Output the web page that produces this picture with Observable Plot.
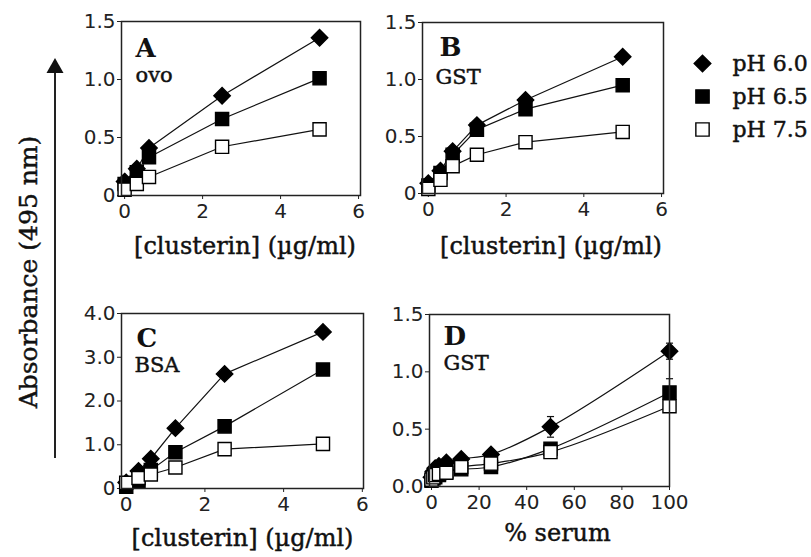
<!DOCTYPE html>
<html><head><meta charset="utf-8">
<script src="https://cdn.jsdelivr.net/npm/d3@7"></script>
<script src="https://cdn.jsdelivr.net/npm/@observablehq/plot@0.6"></script>
<style>
html,body{margin:0;padding:0;background:#fff;}
#fig{position:relative;width:811px;height:557px;overflow:hidden;background:#fff;}
.p{position:absolute;}
</style></head><body><div id="fig"></div>
<script>
// ---------- data ----------
const seriesNames = ["pH 6.0", "pH 6.5", "pH 7.5"];

// Panel A: ovo
const clusterinA = [0, 0.3125, 0.625, 2.5, 5];
const ovoPH60 = [0.12, 0.23, 0.41, 0.86, 1.36];
const ovoPH65 = [0.10, 0.20, 0.33, 0.66, 1.01];
const ovoPH75 = [0.05, 0.10, 0.16, 0.42, 0.57];

// Panel B: GST
const clusterinB = [0, 0.3125, 0.625, 1.25, 2.5, 5];
const gstPH60 = [0.09, 0.20, 0.37, 0.60, 0.82, 1.20];
const gstPH65 = [0.07, 0.18, 0.34, 0.56, 0.74, 0.95];
const gstPH75 = [0.04, 0.12, 0.24, 0.34, 0.45, 0.54];
const gstErr75 = [0, 0, 0, 0, 0, 0.04];

// Panel C: BSA
const clusterinC = [0, 0.3125, 0.625, 1.25, 2.5, 5];
const bsaPH60 = [0.14, 0.40, 0.68, 1.38, 2.62, 3.58];
const bsaPH65 = [0.04, 0.18, 0.42, 0.83, 1.42, 2.72];
const bsaPH75 = [0.13, 0.24, 0.32, 0.48, 0.90, 1.02];
const bsaErr65 = [0, 0, 0, 0, 0.10, 0];
const bsaErr75 = [0, 0, 0, 0, 0, 0.06];

// Panel D: GST vs % serum
const serumD = [0, 0.78, 1.56, 3.125, 6.25, 12.5, 25, 50, 100];
const serumPH60 = [0.08, 0.13, 0.16, 0.18, 0.21, 0.24, 0.28, 0.52, 1.18];
const serumPH65 = [0.05, 0.07, 0.08, 0.10, 0.13, 0.15, 0.17, 0.33, 0.82];
const serumPH75 = [0.06, 0.08, 0.10, 0.11, 0.12, 0.17, 0.20, 0.30, 0.70];
const serumErr60 = [0, 0, 0, 0, 0, 0, 0, 0.09, 0.07];
const serumErr65 = [0, 0, 0, 0, 0, 0, 0, 0, 0.12];

// ticks & labels
const xTicksClusterin = [0, 2, 4, 6];
const xTicksSerum = [0, 20, 40, 60, 80, 100];
const yTicksAB = [0, 0.5, 1.0, 1.5];
const yTicksC = [0, 1, 2, 3, 4];
const yTicksD = [0, 0.5, 1.0, 1.5];
const xLabelClusterin = "[clusterin] (\u00b5g/ml)";
const xLabelSerum = "% serum";
const yLabel = "Absorbance (495 nm)";

// ---------- helpers ----------
function rows(xs, s60, s65, s75, e60, e65, e75) {
  const out = [];
  const sets = [[s60, e60], [s65, e65], [s75, e75]];
  sets.forEach(([ys, es], k) => {
    ys.forEach((y, i) => out.push({x: xs[i], y, s: seriesNames[k], err: es ? es[i] : 0}));
  });
  return out;
}
const capSymbol = {draw(ctx, size) { const w = Math.sqrt(size); ctx.moveTo(-w / 2, 0); ctx.lineTo(w / 2, 0); }};
const fmt0 = d => d === 0 ? "0" : d.toFixed(1);
const serif = "DejaVu Serif";
const heavy = {stroke: "#111", strokeWidth: 0.45};

function panel(o) {
  const data = o.data;
  const errs = data.filter(d => d.err > 0);
  const dotOpts = {x: "x", y: "y", r: 7.4, stroke: "#000", strokeWidth: 1.4};
  return Plot.plot({
    width: o.width, height: o.height,
    marginLeft: o.ml, marginRight: o.mr, marginTop: o.mt, marginBottom: o.mb,
    style: {fontFamily: "DejaVu Sans", fontSize: "20px", color: "#222", background: "transparent"},
    x: {domain: o.xDomain, ticks: o.xTicks, tickSize: 4, tickPadding: 4, label: null, tickFormat: d => String(d)},
    y: {domain: o.yDomain, ticks: o.yTicks, tickSize: 4, tickPadding: 2, label: null, tickFormat: o.yFmt},
    marks: [
      Plot.line(data, {x: "x", y: "y", z: "s", stroke: "#111", strokeWidth: 1.2, curve: o.curve || "linear"}),
      Plot.ruleX(errs, {x: "x", y1: d => d.y - d.err, y2: d => d.y + d.err, stroke: "#111", strokeWidth: 1.2}),
      Plot.dot(errs, {x: "x", y: d => d.y + d.err, symbol: capSymbol, r: 4, stroke: "#111", strokeWidth: 1.2}),
      Plot.dot(errs, {x: "x", y: d => d.y - d.err, symbol: capSymbol, r: 4, stroke: "#111", strokeWidth: 1.2}),
      Plot.dot(data.filter(d => d.s === "pH 6.0"), {...dotOpts, symbol: "diamond2", fill: "#000", r: 7.4}),
      Plot.dot(data.filter(d => d.s === "pH 6.5"), {...dotOpts, symbol: "square", fill: "#000"}),
      Plot.dot(data.filter(d => d.s === "pH 7.5"), {...dotOpts, symbol: "square", fill: "#fff"}),
      Plot.frame({stroke: "#222", strokeWidth: 1.5}),
      Plot.text([o.letter], {text: d => d, frameAnchor: "top-left", dx: o.ldx, dy: o.ldy, lineAnchor: "bottom", textAnchor: "start", fontFamily: serif, fontWeight: "bold", fontSize: 26, fill: "#111"}),
      Plot.text([o.sub], {text: d => d, frameAnchor: "top-left", dx: o.sdx, dy: o.sdy, lineAnchor: "bottom", textAnchor: "start", fontFamily: serif, fontSize: 21, fill: "#111", ...heavy}),
      Plot.text([o.xLabel], {text: d => d, frameAnchor: "bottom", dx: o.xdx, dy: o.xdy, lineAnchor: "middle", textAnchor: "middle", fontFamily: serif, fontSize: 24, fill: "#111", ...heavy})
    ]
  });
}

function place(el, left, top) {
  const wrap = document.createElement("div");
  wrap.className = "p";
  wrap.style.left = left + "px";
  wrap.style.top = top + "px";
  wrap.appendChild(el);
  document.getElementById("fig").appendChild(wrap);
}

// ---------- panels ----------
place(panel({
  data: rows(clusterinA, ovoPH60, ovoPH65, ovoPH75),
  width: 330, height: 272, ml: 81, mr: 10, mt: 21, mb: 77,
  xDomain: [-0.08, 6.05], yDomain: [0, 1.5], xTicks: xTicksClusterin, yTicks: yTicksAB, yFmt: fmt0,
  letter: "A", ldx: 14, ldy: 35, sub: "ovo", sdx: 14, sdy: 60,
  xLabel: xLabelClusterin, xdx: 4, xdy: 51
}), 40, 0);

place(panel({
  data: rows(clusterinB, gstPH60, gstPH65, gstPH75, null, null, gstErr75),
  width: 310, height: 272, ml: 52, mr: 17, mt: 22, mb: 79,
  xDomain: [-0.15, 6.05], yDomain: [0, 1.5], xTicks: xTicksClusterin, yTicks: yTicksAB, yFmt: fmt0,
  letter: "B", ldx: 17, ldy: 33, sub: "GST", sdx: 13, sdy: 61,
  xLabel: xLabelClusterin, xdx: 8, xdy: 53
}), 370, 0);

place(panel({
  data: rows(clusterinC, bsaPH60, bsaPH65, bsaPH75, null, bsaErr65, bsaErr75),
  width: 330, height: 277, ml: 81, mr: 7, mt: 33, mb: 69,
  xDomain: [-0.12, 6.03], yDomain: [0, 4], xTicks: xTicksClusterin, yTicks: yTicksC, yFmt: fmt0,
  letter: "C", ldx: 15, ldy: 33, sub: "BSA", sdx: 13, sdy: 58,
  xLabel: xLabelClusterin, xdx: 0, xdy: 50
}), 40, 280);

place(panel({
  data: rows(serumD, serumPH60, serumPH65, serumPH75, serumErr60, serumErr65, null),
  width: 320, height: 277, ml: 59, mr: 21, mt: 34, mb: 71,
  xDomain: [-0.84, 100], yDomain: [0, 1.5], xTicks: xTicksSerum, yTicks: yTicksD, yFmt: d => d.toFixed(1),
  letter: "D", ldx: 14, ldy: 30, sub: "GST", sdx: 14, sdy: 55,
  xLabel: xLabelSerum, xdx: 8, xdy: 47, curve: "catmull-rom"
}), 370, 280);

// ---------- legend ----------
place(Plot.plot({
  width: 121, height: 150, marginLeft: 12, marginRight: 0, marginTop: 0, marginBottom: 0,
  style: {background: "transparent"},
  y: {type: "point", domain: seriesNames, range: [25, 125], axis: null},
  symbol: {domain: seriesNames, range: ["diamond2", "square", "square"]},
  color: {domain: seriesNames, range: ["#000", "#000", "#fff"]},
  marks: [
    Plot.dot(seriesNames, {y: d => d, frameAnchor: "left", symbol: d => d, fill: d => d, stroke: "#000", strokeWidth: 1.4, r: 7.5}),
    Plot.text(seriesNames, {y: d => d, text: d => d, frameAnchor: "left", dx: 30, textAnchor: "start", lineAnchor: "middle", fontFamily: serif, fontSize: 22, fill: "#111", ...heavy})
  ]
}), 690, 21);

// ---------- shared y label with arrow ----------
const ns = "http://www.w3.org/2000/svg";
const ysvg = document.createElementNS(ns, "svg");
ysvg.setAttribute("width", 70); ysvg.setAttribute("height", 557);
const t = document.createElementNS(ns, "text");
t.setAttribute("transform", "translate(28,272) rotate(-90)");
t.setAttribute("text-anchor", "middle");
t.setAttribute("dominant-baseline", "central");
t.setAttribute("font-family", serif);
t.setAttribute("font-size", "25");
t.setAttribute("fill", "#111");
t.setAttribute("stroke", "#111");
t.setAttribute("stroke-width", "0.45");
t.textContent = yLabel;
ysvg.appendChild(t);
const ln = document.createElementNS(ns, "line");
ln.setAttribute("x1", 55); ln.setAttribute("x2", 55); ln.setAttribute("y1", 70); ln.setAttribute("y2", 458);
ln.setAttribute("stroke", "#222"); ln.setAttribute("stroke-width", 2);
ysvg.appendChild(ln);
const head = document.createElementNS(ns, "path");
head.setAttribute("d", "M55,58L63.5,73L46.5,73Z");
head.setAttribute("fill", "#111");
ysvg.appendChild(head);
place(ysvg, 0, 0);
</script>
</body></html>
